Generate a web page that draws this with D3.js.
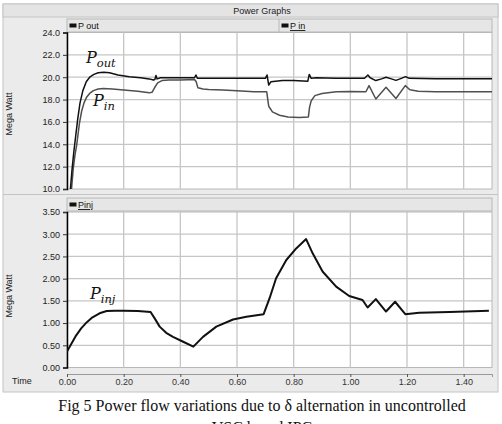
<!DOCTYPE html>
<html>
<head>
<meta charset="utf-8">
<script src="https://cdn.jsdelivr.net/npm/d3@7"></script>
<style>
  body { margin: 0; background: #fff; }
  svg { display: block; font-family: 'Liberation Sans', Arial, sans-serif; }
</style>
</head>
<body>
<div id="chart"></div>
<script>
'use strict'

// time ticks shared by both panels
const timeTicks = [0, 0.2, 0.4, 0.6, 0.8, 1.0, 1.2, 1.4]
const topTicks = [10, 12, 14, 16, 18, 20, 22, 24]
const bottomTicks = [0, 0.5, 1.0, 1.5, 2.0, 2.5, 3.0, 3.5]

// [time s, MW]
const pOut = [
  [0.012, 10.0], [0.018, 11.8], [0.024, 13.3], [0.03, 14.6], [0.038, 16.3], [0.046, 17.7],
  [0.056, 18.8], [0.068, 19.6], [0.08, 20.0], [0.095, 20.25], [0.11, 20.4], [0.13, 20.45],
  [0.15, 20.4], [0.18, 20.2], [0.22, 20.05], [0.26, 19.95], [0.29, 19.85], [0.305, 19.75],
  [0.31, 19.8], [0.314, 20.15], [0.318, 19.85], [0.33, 19.95], [0.40, 19.95], [0.45, 19.95],
  [0.455, 20.2], [0.46, 19.9], [0.50, 19.9], [0.60, 19.9], [0.70, 19.9], [0.706, 20.2],
  [0.712, 19.3], [0.72, 19.6], [0.76, 19.7], [0.80, 19.7], [0.85, 19.65], [0.855, 20.25],
  [0.862, 19.9], [0.88, 19.95], [0.95, 19.9], [1.05, 19.9], [1.062, 20.2], [1.07, 19.95],
  [1.09, 19.7], [1.11, 19.85], [1.126, 20.0], [1.145, 19.85], [1.161, 19.72], [1.18, 19.9],
  [1.195, 20.05], [1.208, 19.9], [1.3, 19.87], [1.5, 19.87]
]
const pIn = [
  [0.016, 10.0], [0.022, 11.8], [0.028, 13.0], [0.034, 13.9], [0.044, 15.9], [0.052, 17.0],
  [0.06, 17.7], [0.069, 18.2], [0.08, 18.55], [0.093, 18.8], [0.11, 18.95], [0.128, 19.0],
  [0.16, 18.95], [0.2, 18.85], [0.25, 18.75], [0.29, 18.6], [0.3, 18.65], [0.31, 19.1],
  [0.32, 19.5], [0.335, 19.7], [0.36, 19.75], [0.40, 19.75], [0.45, 19.8], [0.456, 19.6],
  [0.462, 19.05], [0.48, 18.95], [0.5, 18.9], [0.55, 18.85], [0.6, 18.8], [0.66, 18.7],
  [0.705, 18.7], [0.708, 18.1], [0.712, 17.4], [0.725, 16.9], [0.75, 16.6], [0.78, 16.45],
  [0.82, 16.4], [0.852, 16.45], [0.856, 17.3], [0.862, 17.9], [0.875, 18.35], [0.9, 18.55],
  [0.95, 18.7], [1.0, 18.72], [1.055, 18.7], [1.066, 19.25], [1.09, 18.05], [1.126, 19.1],
  [1.161, 18.1], [1.194, 19.25], [1.21, 18.88], [1.24, 18.75], [1.3, 18.7], [1.5, 18.7]
]
const pInj = [
  [0, 0.36], [0.01, 0.47], [0.03, 0.7], [0.05, 0.88], [0.07, 1.02], [0.09, 1.13], [0.115, 1.22],
  [0.14, 1.27], [0.17, 1.28], [0.2, 1.28], [0.25, 1.27], [0.295, 1.25], [0.31, 1.1],
  [0.327, 0.92], [0.35, 0.78], [0.374, 0.69], [0.41, 0.58], [0.446, 0.47], [0.48, 0.69],
  [0.527, 0.92], [0.586, 1.08], [0.633, 1.14], [0.694, 1.2], [0.715, 1.56], [0.738, 2.01],
  [0.774, 2.42], [0.809, 2.68], [0.844, 2.89], [0.867, 2.57], [0.902, 2.16], [0.95, 1.82],
  [0.996, 1.61], [1.043, 1.52], [1.061, 1.35], [1.09, 1.54], [1.126, 1.26], [1.158, 1.48],
  [1.194, 1.2], [1.243, 1.23], [1.35, 1.25], [1.489, 1.28]
]

const width = 502
const height = 424
const plotLeft = 67
const plotRight = 492

const svg = d3.select('#chart')
  .append('svg')
  .attr('width', width)
  .attr('height', height)

const xScale = d3.scaleLinear().domain([0, 1.5]).range([plotLeft, plotRight])
const yTop = d3.scaleLinear().domain([10, 24]).range([189, 32.5])
const yBottom = d3.scaleLinear().domain([0, 3.5]).range([367.5, 212])

// widget frame
svg.append('rect')
  .attr('x', 3).attr('y', 4).attr('width', 495).attr('height', 388)
  .attr('fill', '#ebebeb').attr('stroke', '#c4c4c4')
svg.append('rect')
  .attr('x', 3).attr('y', 4).attr('width', 495).attr('height', 13)
  .attr('fill', '#e4e4e4').attr('stroke', '#c4c4c4')
svg.append('text')
  .attr('x', 262).attr('y', 14)
  .attr('text-anchor', 'middle')
  .attr('font-size', 9).attr('fill', '#222')
  .text('Power Graphs')
svg.append('line')
  .attr('x1', 3).attr('x2', 498).attr('y1', 194.5).attr('y2', 194.5)
  .attr('stroke', '#c4c4c4')

function legendBar (y, items) {
  svg.append('rect')
    .attr('x', plotLeft).attr('y', y).attr('width', plotRight - plotLeft).attr('height', 13)
    .attr('fill', '#e6e6e6').attr('stroke', '#b8b8b8')
  items.forEach(function (it, i) {
    const x0 = plotLeft + i * 212
    if (i > 0) {
      svg.append('line')
        .attr('x1', x0).attr('x2', x0).attr('y1', y).attr('y2', y + 13)
        .attr('stroke', '#b8b8b8')
    }
    svg.append('rect')
      .attr('x', x0 + 2.5).attr('y', y + 4.5).attr('width', 7).attr('height', 4)
      .attr('fill', '#111')
    const t = svg.append('text')
      .attr('x', x0 + 11).attr('y', y + 10)
      .attr('font-size', 9).attr('fill', '#111')
      .text(it.name)
    if (it.underline) t.attr('text-decoration', 'underline')
  })
}

function panel (yScale, ticks, fmt, series, labelY) {
  const top = yScale.range()[1]
  const bottom = yScale.range()[0]

  svg.append('rect')
    .attr('x', plotLeft).attr('y', top)
    .attr('width', plotRight - plotLeft).attr('height', bottom - top)
    .attr('fill', '#fff').attr('stroke', '#b8b8b8')

  // grid
  svg.append('g')
    .selectAll('line')
    .data(timeTicks.slice(1))
    .enter()
    .append('line')
    .attr('x1', d => xScale(d)).attr('x2', d => xScale(d))
    .attr('y1', top).attr('y2', bottom)
    .attr('stroke', '#c6c6c6').attr('stroke-width', 1.3)
  svg.append('g')
    .selectAll('line')
    .data(ticks.slice(1, -1))
    .enter()
    .append('line')
    .attr('x1', plotLeft).attr('x2', plotRight)
    .attr('y1', d => yScale(d)).attr('y2', d => yScale(d))
    .attr('stroke', '#c6c6c6').attr('stroke-width', 1.3)

  const axis = svg.append('g')
    .attr('transform', `translate(${plotLeft}, 0)`)
    .call(d3.axisLeft(yScale).tickValues(ticks).tickFormat(fmt).tickSize(4).tickPadding(3))
  axis.select('.domain').attr('stroke', '#000').attr('stroke-width', 1.5)
  axis.selectAll('.tick line').attr('stroke', '#333')
  axis.selectAll('text')
    .attr('font-size', 9).attr('fill', '#222')
    .attr('font-family', "'Liberation Sans', Arial, sans-serif")

  svg.append('text')
    .attr('transform', `translate(12, ${labelY}) rotate(-90)`)
    .attr('text-anchor', 'middle')
    .attr('font-size', 9).attr('fill', '#222')
    .text('Mega Watt')

  const clipId = 'clip' + Math.round(top)
  svg.append('clipPath').attr('id', clipId)
    .append('rect')
    .attr('x', plotLeft).attr('y', top)
    .attr('width', plotRight - plotLeft).attr('height', bottom - top)

  const line = d3.line()
    .x(d => xScale(d[0]))
    .y(d => yScale(d[1]))

  series.forEach(function (s) {
    svg.append('path')
      .datum(s.data)
      .attr('clip-path', `url(#${clipId})`)
      .attr('d', line)
      .attr('fill', 'none')
      .attr('stroke', s.color)
      .attr('stroke-width', s.width)
      .attr('stroke-linejoin', 'round')
  })
}

legendBar(19, [{ name: 'P out' }, { name: 'P in', underline: true }])
panel(yTop, topTicks, d3.format('.1f'), [
  { data: pIn, color: '#4f4f4f', width: 1.5 },
  { data: pOut, color: '#111', width: 1.5 }
], 114)

legendBar(198, [{ name: 'Pinj', underline: true }])
panel(yBottom, bottomTicks, d3.format('.2f'), [
  { data: pInj, color: '#111', width: 2 }
], 296)

// time axis row
const timeAxis = svg.append('g')
  .attr('transform', 'translate(0, 374)')
  .call(d3.axisBottom(xScale).tickValues(timeTicks).tickFormat(d3.format('.2f')).tickSize(3).tickPadding(2))
timeAxis.select('.domain').attr('stroke', '#999')
timeAxis.selectAll('.tick line').attr('stroke', '#555')
timeAxis.selectAll('text')
  .attr('font-size', 9).attr('fill', '#333')
  .attr('font-family', "'Liberation Sans', Arial, sans-serif")
svg.append('text')
  .attr('x', 12).attr('y', 384)
  .attr('font-size', 9).attr('fill', '#222')
  .text('Time')

// curve labels
function mathLabel (x, y, sub) {
  const t = svg.append('text')
    .attr('x', x).attr('y', y)
    .attr('font-family', "'DejaVu Serif', 'Liberation Serif', serif")
    .attr('font-style', 'italic')
    .attr('fill', '#111')
  t.append('tspan').attr('font-size', 16).text('P')
  t.append('tspan').attr('font-size', 11.5).attr('dy', 4).text(sub)
}
mathLabel(86, 63, 'out')
mathLabel(93, 106, 'in')
mathLabel(90, 299, 'inj')

// caption
svg.append('text')
  .attr('x', 262).attr('y', 411)
  .attr('text-anchor', 'middle')
  .attr('font-family', "'Liberation Serif', 'Times New Roman', serif")
  .attr('font-size', 16)
  .attr('fill', '#111')
  .text('Fig 5 Power flow variations due to δ alternation in uncontrolled')
svg.append('text')
  .attr('x', 262).attr('y', 433)
  .attr('text-anchor', 'middle')
  .attr('font-family', "'Liberation Serif', 'Times New Roman', serif")
  .attr('font-size', 16)
  .attr('fill', '#111')
  .text('VSC based IPC')
</script>
</body>
</html>
